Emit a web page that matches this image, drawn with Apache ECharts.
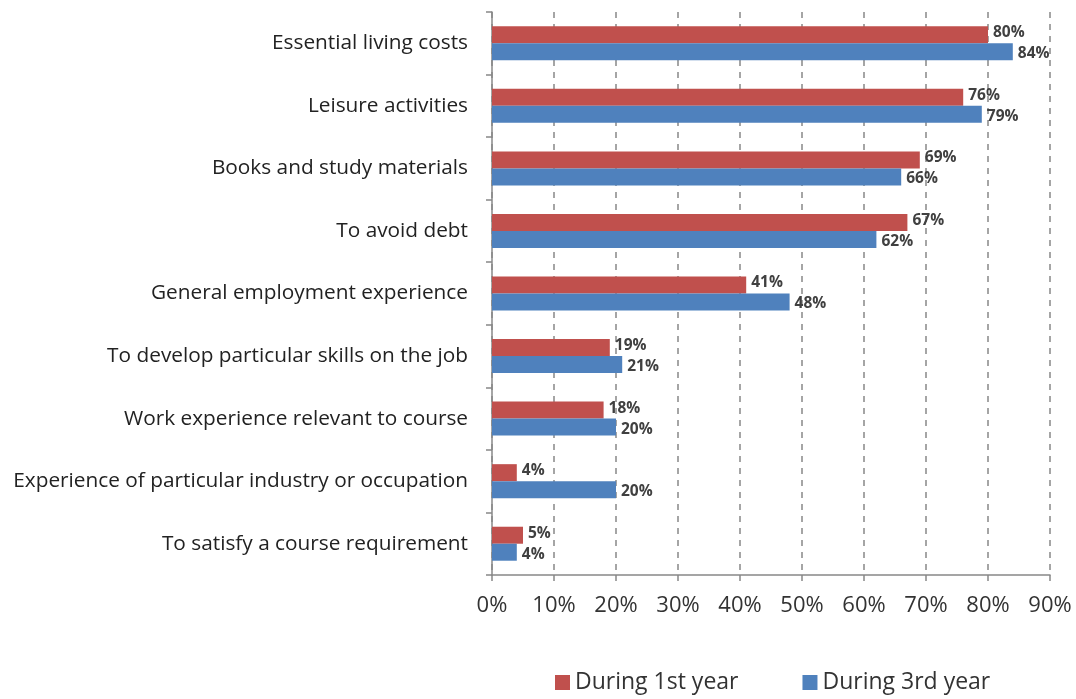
<!DOCTYPE html>
<html>
<head>
<meta charset="utf-8">
<script src="https://cdn.jsdelivr.net/npm/echarts@6/dist/echarts.min.js"></script>
<style>
  html, body { margin: 0; padding: 0; background: #fff; }
  #chart { width: 1076px; height: 699px; }
</style>
</head>
<body>
<div id="chart"></div>
<script>
// categories, top to bottom as in the picture
const categories = [
  'Essential living costs',
  'Leisure activities',
  'Books and study materials',
  'To avoid debt',
  'General employment experience',
  'To develop particular skills on the job',
  'Work experience relevant to course',
  'Experience of particular industry or occupation',
  'To satisfy a course requirement'
];
const firstYear = [80, 76, 69, 67, 41, 19, 18, 4, 5];
const thirdYear = [84, 79, 66, 62, 48, 21, 20, 20, 4];
const tickLabels = ['0%', '10%', '20%', '30%', '40%', '50%', '60%', '70%', '80%', '90%'];

const font = '"Open Sans", sans-serif';
const chart = echarts.init(document.getElementById('chart'));

const labelStyle = {
  show: true,
  position: 'right',
  distance: 5,
  formatter: p => p.value + '%',
  color: '#404040',
  fontSize: 15.5,
  fontWeight: 'bold',
  fontFamily: font
};

chart.setOption({
  animation: false,
  grid: { left: 492, right: 26, top: 12, bottom: 124 },
  legend: {
    bottom: 0,
    left: 550,
    itemWidth: 15,
    itemHeight: 15,
    itemGap: 64,
    icon: 'rect',
    textStyle: { fontSize: 23, color: '#333', fontFamily: font },
    data: ['During 1st year', 'During 3rd year']
  },
  xAxis: {
    type: 'value',
    min: 0,
    max: 90,
    interval: 10,
    axisLine: { show: true, lineStyle: { color: '#888', width: 1.5 } },
    axisTick: { show: true, length: 6, lineStyle: { color: '#888', width: 1.5 } },
    axisLabel: {
      formatter: v => tickLabels[v / 10],
      fontSize: 22,
      color: '#333',
      margin: 20,
      fontFamily: font
    },
    splitLine: { show: true, lineStyle: { color: '#888', type: [6, 6], width: 1.5 } }
  },
  yAxis: {
    type: 'category',
    data: categories,
    inverse: true,
    axisLine: { show: true, lineStyle: { color: '#888', width: 1.5 } },
    axisTick: { show: true, length: 6, lineStyle: { color: '#888', width: 1.5 } },
    axisLabel: { fontSize: 20.8, color: '#222', margin: 24, fontFamily: font }
  },
  series: [
    {
      name: 'During 1st year',
      type: 'bar',
      data: firstYear,
      barWidth: 17,
      barGap: '0%',
      itemStyle: { color: '#C0504D' },
      label: Object.assign({}, labelStyle, { offset: [0, -2] })
    },
    {
      name: 'During 3rd year',
      type: 'bar',
      data: thirdYear,
      barWidth: 17,
      barGap: '0%',
      itemStyle: { color: '#4F81BD' },
      label: Object.assign({}, labelStyle, { offset: [0, 2] })
    }
  ]
});

window.addEventListener('resize', () => chart.resize());
</script>
</body>
</html>
